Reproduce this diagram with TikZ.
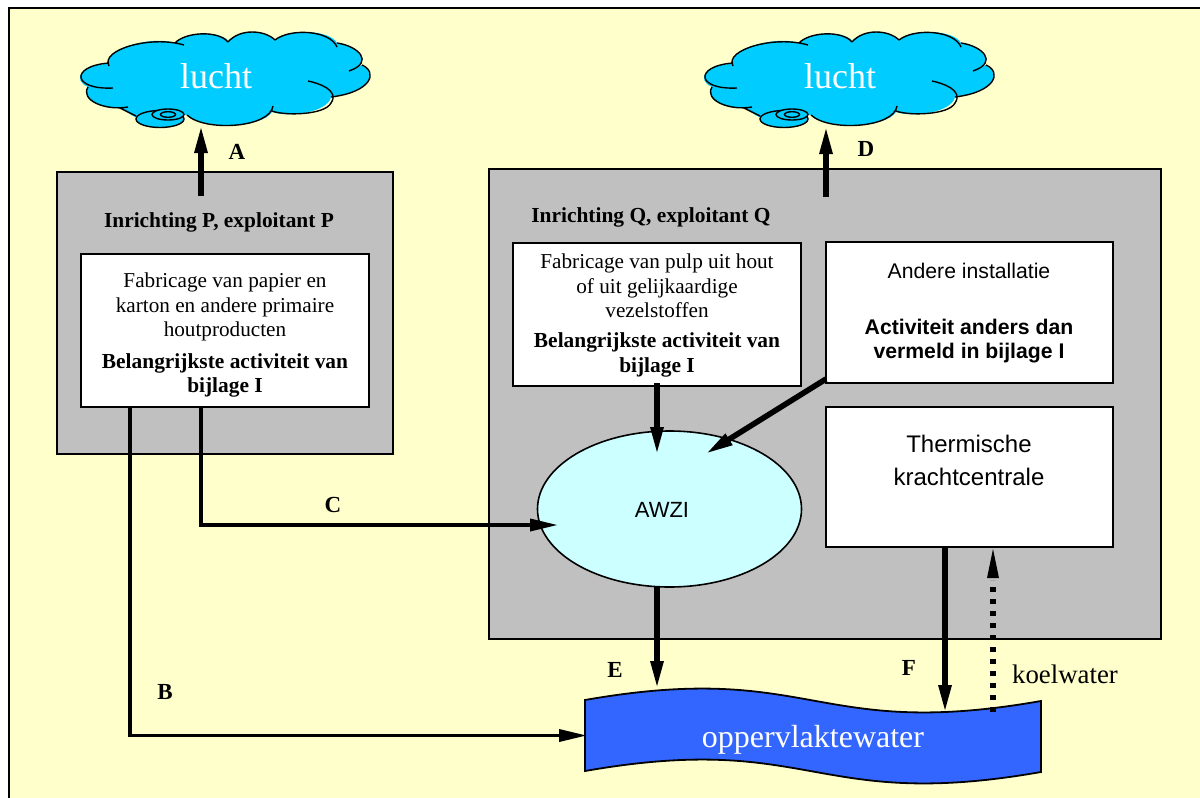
\documentclass[tikz,border=0pt]{standalone}
\usepackage{fontspec}
\setmainfont{Liberation Serif}
\setsansfont{Liberation Sans}
\usetikzlibrary{arrows.meta,shapes.geometric}
\definecolor{bgyellow}{HTML}{FFFFCC}
\definecolor{cloudblue}{HTML}{00CCFF}
\definecolor{plantgray}{HTML}{C0C0C0}
\definecolor{awzicyan}{HTML}{CCFFFF}
\definecolor{waterblue}{HTML}{3366FF}
\tikzset{
  plant/.style={draw=black,line width=1pt,fill=plantgray,outer sep=0pt},
  whitebox/.style={draw=black,line width=0.8pt,fill=white,outer sep=0pt},
  cloudline/.style={draw=black,line width=0.7pt},
  kite/.style={-{Triangle[length=14pt,width=6pt]},shorten >=-1pt},
  flow/.style={kite,line width=1.8pt},
  flowthick/.style={kite,line width=2.8pt},
  flowdot/.style={line width=3pt,dash pattern=on 2.75pt off 3.25pt},
  letter/.style={font=\fontsize{11.5}{13}\selectfont\bfseries,inner sep=0pt},
  serifsmall/.style={font=\fontsize{10.6}{12.25}\selectfont,align=center,inner sep=0pt},
  serifbold/.style={font=\fontsize{10.7}{12.25}\selectfont\bfseries,align=center,inner sep=0pt},
  sanstext/.style={font=\fontsize{10.6}{12.25}\selectfont\sffamily,align=center,inner sep=0pt},
  sansawzi/.style={font=\fontsize{11}{12.25}\selectfont\sffamily,align=center,inner sep=0pt},
  sansbold/.style={font=\fontsize{10.6}{12}\selectfont\sffamily\bfseries,align=center,inner sep=0pt},
  sansbig/.style={font=\fontsize{12}{16.5}\selectfont\sffamily,align=center,inner sep=0pt},
  bigwhite/.style={text=white,inner sep=0pt},
}
\newcommand{\cloudshape}{%
  \fill[cloudblue] (109,64) .. controls (104,50) and (150,35) .. (175,43)
    .. controls (185,32) and (218,30) .. (229,41)
    .. controls (240,28) and (265,30) .. (275,40)
    .. controls (290,28) and (330,30) .. (337,43)
    .. controls (358,46) and (375,62) .. (349,71)
    -- (362,65)
    .. controls (378,72) and (372,92) .. (331,97)
    .. controls (328,112) and (290,118) .. (272,112)
    .. controls (262,128) and (205,130) .. (187,115)
    -- (135,117) -- (120,108)
    .. controls (100,108) and (80,100) .. (88,87)
    .. controls (72,80) and (80,64) .. (109,64) -- cycle;
  \draw[cloudline,line join=round]
    (109,66) .. controls (100,50) and (150,35) .. (184,45)
    (175,43) .. controls (185,32) and (218,30) .. (228,42)
    (228,42) .. controls (240,28) and (265,30) .. (275,40)
    (275,40) .. controls (290,28) and (330,30) .. (337,47)
    (337,43) .. controls (358,46) and (375,62) .. (349,71)
    (362,65) .. controls (378,72) and (372,92) .. (331,97)
    (308,81) .. controls (318,83) and (340,90) .. (331,103)
    (331,103) .. controls (325,115) and (285,116) .. (272,111)
    (273,106) .. controls (270,128) and (205,132) .. (187,115)
    (128,107) .. controls (105,111) and (80,100) .. (88,87)
    (113,88) .. controls (72,90) and (70,66) .. (109,63)
    (120,108) -- (136,116);
  \draw[cloudline,fill=cloudblue] (160,119) ellipse [x radius=24,y radius=8.5];
  \draw[cloudline,fill=cloudblue] (168,114.5) ellipse [x radius=16,y radius=5.5];
  \draw[cloudline,fill=cloudblue] (168,114.5) ellipse [x radius=7.5,y radius=2.8];
}
\begin{document}
\begin{tikzpicture}[x=0.5pt,y=-0.5pt]
\useasboundingbox (0,0) rectangle (1200,798);
\fill[white] (0,0) rectangle (1200,798);
\fill[bgyellow] (9,8) rectangle (1200,798);
\draw[line width=1pt,line cap=butt] (9,798) -- (9,8) -- (1200,8);

% clouds
\cloudshape
\node[bigwhite,font=\fontsize{18}{20}\selectfont] (lucht1) at (216,76) {lucht};
\begin{scope}[xshift=312pt]
\cloudshape
\end{scope}
\node[bigwhite,font=\fontsize{18}{20}\selectfont] (lucht2) at (840,76) {lucht};

% plants
\node[plant,anchor=north west,minimum width=168pt,minimum height=141pt] (P) at (57,172) {};
\node[plant,anchor=north west,minimum width=336pt,minimum height=235pt] (Q) at (489,169) {};
\node[whitebox,anchor=north west,minimum width=144pt,minimum height=76.5pt] (boxP) at (81,254) {};
\node[whitebox,line width=1pt,anchor=north west,minimum width=144pt,minimum height=71.5pt] (boxQ) at (513,243) {};
\node[whitebox,anchor=north west,minimum width=143.5pt,minimum height=70.5pt] (boxO) at (826,242) {};
\node[whitebox,anchor=north west,minimum width=143.5pt,minimum height=70pt] (boxT) at (826,407) {};
\node[draw=black,line width=0.8pt,fill=awzicyan,ellipse,minimum width=132pt,minimum height=78pt,inner sep=0pt] (awzi) at (669.5,509) {};

% water
\draw[draw=black,line width=0.9pt,fill=waterblue,line join=miter] (585,700) .. controls (813,660) and (813,741) .. (1041,701)
  -- (1041,772) .. controls (813,812) and (813,731) .. (585,771) -- cycle;
\node[bigwhite,font=\fontsize{16}{18}\selectfont] (water) at (813,740) {oppervlaktewater};

% anchors for connectors
\coordinate (aStart) at (201,196);
\coordinate (aEnd) at (201,127);
\coordinate (dStart) at (826,197);
\coordinate (dEnd) at (826,128);
\coordinate (q1Out) at (657,383);
\coordinate (awziTop) at (657,453);
\coordinate (o1Out) at (826,379);
\coordinate (awziNE) at (707,453);
\coordinate (bOut) at (130,407);
\coordinate (bCorner) at (130,735.5);
\coordinate (bEnd) at (585,735.5);
\coordinate (cOut) at (201,407);
\coordinate (cCorner) at (201,525);
\coordinate (cEnd) at (556,525);
\coordinate (eOut) at (657,587);
\coordinate (eEnd) at (657,687);
\coordinate (fOut) at (945,547);
\coordinate (fEnd) at (945,711);
\coordinate (kStart) at (993,712);
\coordinate (kMid) at (993,580);
\coordinate (kEnd) at (993,549);
\coordinate (kL) at (987,578);
\coordinate (kR) at (999,578);

% connectors
\draw[flowthick] (aStart) -- (aEnd);
\draw[flowthick] (dStart) -- (dEnd);
\draw[flowthick] (q1Out) -- (awziTop);
\draw[flowthick] (o1Out) -- (awziNE);
\draw[flow] (bOut) -- (bCorner) -- (bEnd);
\draw[flow] (cOut) -- (cCorner) -- (cEnd);
\draw[flowthick] (eOut) -- (eEnd);
\draw[flowthick] (fOut) -- (fEnd);
\draw[flowdot] (kStart) -- (kMid);
\fill (kEnd) -- (kL) -- (kR) -- cycle;

% texts
\node[serifbold] (tP) at (219,222) {Inrichting P, exploitant P};
\node[serifsmall] (tP1) at (225,307) {Fabricage van papier en\\karton en andere primaire\\houtproducten};
\node[serifbold] (tP2) at (225,375.5) {Belangrijkste activiteit van\\bijlage I};
\node[serifbold,anchor=west] (tQ) at (531,217) {Inrichting Q, exploitant Q};
\node[serifsmall] (tQ1) at (657,286) {Fabricage van pulp uit hout\\of uit gelijkaardige\\vezelstoffen};
\node[serifbold] (tQ2) at (657,355) {Belangrijkste activiteit van\\bijlage I};
\node[sanstext] (tO1) at (969,271) {Andere installatie};
\node[sansbold] (tO2) at (969,341) {Activiteit anders dan\\vermeld in bijlage I};
\node[sansbig] (tT) at (969,460) {Thermische\\krachtcentrale};
\node[sansawzi] (tA) at (662,510) {AWZI};
\node[letter] (lA) at (237,152) {A};
\node[letter] (lB) at (165,692) {B};
\node[letter] (lC) at (333,505) {C};
\node[letter] (lD) at (866,149) {D};
\node[letter] (lE) at (615,670) {E};
\node[letter] (lF) at (909,668) {F};
\node[inner sep=0pt,font=\fontsize{13.4}{15}\selectfont] (koel) at (1065,674) {koelwater};
\end{tikzpicture}
\end{document}
